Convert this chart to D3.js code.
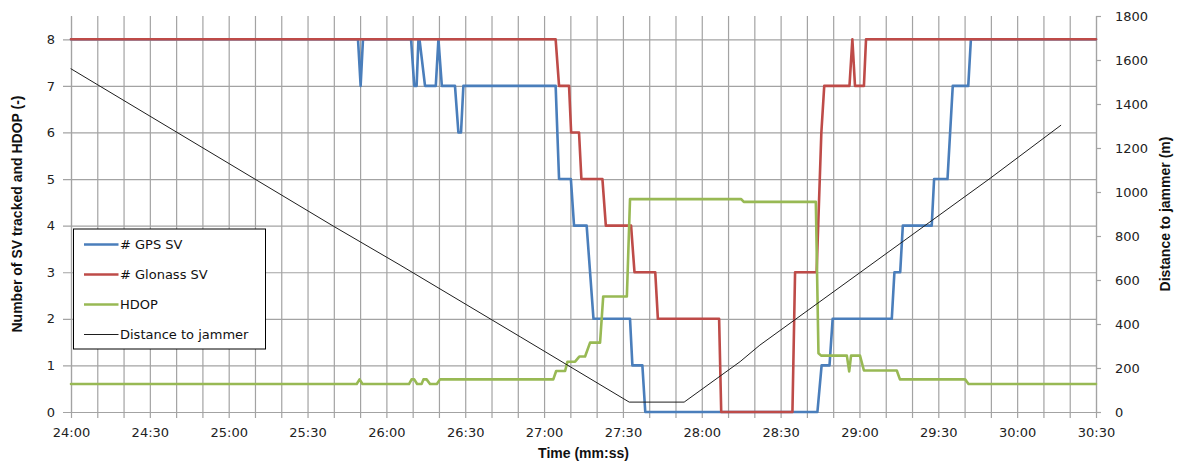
<!DOCTYPE html>
<html>
<head>
<meta charset="utf-8">
<script src="https://cdn.jsdelivr.net/npm/d3@7"></script>
<style>
  body { margin: 0; background: #fff; }
  svg { display: block; }
</style>
</head>
<body>
<svg id="chart" width="1187" height="466"></svg>
<script>
// Times are seconds elapsed after 24:00 (mm:ss); values are step vertices.
const timeTicks = ["24:00", "24:30", "25:00", "25:30", "26:00", "26:30", "27:00",
                   "27:30", "28:00", "28:30", "29:00", "29:30", "30:00", "30:30"];
const svTicks = [0, 1, 2, 3, 4, 5, 6, 7, 8];
const distTicks = [0, 200, 400, 600, 800, 1000, 1200, 1400, 1600, 1800];

// # GPS satellites tracked
const gpsSV = [
  [0, 8], [109.2, 8], [110.2, 7], [111.1, 8], [129.4, 8], [130.6, 7], [131.5, 7],
  [132.2, 8], [132.6, 8], [134.7, 7], [138.8, 7], [139.8, 8], [141.1, 7], [146.1, 7],
  [147.4, 6], [148.4, 6], [149.3, 7], [184.4, 7], [185.7, 5], [190.2, 5], [191.4, 4],
  [196.2, 4], [198.8, 2], [212.7, 2], [213.6, 1], [217.4, 1], [218.5, 0], [284.0, 0],
  [285.6, 1], [288.6, 1], [289.8, 2], [312.3, 2], [313.3, 3], [315.5, 3], [316.5, 4],
  [327.5, 4], [328.4, 5], [333.5, 5], [335.5, 7], [341.4, 7], [342.4, 8], [390, 8]
];

// # Glonass satellites tracked
const glonassSV = [
  [0, 8], [184.4, 8], [185.7, 7], [189.5, 7], [190.3, 6], [193.3, 6], [194.2, 5],
  [202.2, 5], [203.5, 4], [213.1, 4], [214.4, 3], [222.3, 3], [223.3, 2], [246.6, 2],
  [247.4, 0], [274.5, 0], [275.5, 3], [283.7, 3], [285.5, 6], [286.6, 7], [296.2, 7],
  [297.3, 8], [298.3, 7], [301.7, 7], [302.5, 8], [390, 8]
];

// Horizontal dilution of precision
const hdop = [
  [0, 0.6], [108.7, 0.6], [109.8, 0.7], [110.9, 0.6], [128.6, 0.6], [129.6, 0.7],
  [130.6, 0.7], [131.7, 0.6], [133.4, 0.6], [134.1, 0.7], [135.3, 0.7], [136.6, 0.6],
  [139.2, 0.6], [140.4, 0.7], [183.5, 0.7], [184.6, 0.88], [188.0, 0.88], [188.9, 1.08],
  [191.8, 1.08], [193.4, 1.19], [195.6, 1.19], [197.5, 1.49], [201.3, 1.49], [202.5, 2.48],
  [211.5, 2.48], [212.7, 4.57], [255.0, 4.57], [256.0, 4.51], [283.4, 4.51], [284.4, 1.26],
  [285.4, 1.21], [295.2, 1.21], [296.1, 0.87], [296.8, 1.21], [300.2, 1.21], [301.7, 0.89],
  [314.2, 0.89], [315.4, 0.7], [340.2, 0.7], [341.5, 0.6], [390, 0.6]
];

// Distance to jammer (m)
const distance = [
  [0, 1560], [99.8, 845], [125.2, 668], [170.9, 342], [212.4, 45], [233.3, 45],
  [254.6, 229], [262.1, 304], [349.7, 1062], [376.6, 1303]
];

const seriesNames = ["# GPS SV", "# Glonass SV", "HDOP", "Distance to jammer"];
const seriesColors = ["#4a7ebb", "#be4b48", "#98b954", "#1e1e1e"];

const toSeconds = s => { const [m, ss] = s.split(":").map(Number); return m * 60 + ss - 24 * 60; };

const svg = d3.select("#chart");
svg.append("rect").attr("width", 1187).attr("height", 466).attr("fill", "#fff");

const plotLeft = 71, plotRight = 1096, plotTop = 16, plotBottom = 412;
const x = d3.scaleLinear().domain([0, 390]).range([plotLeft, plotRight]);
const yL = d3.scaleLinear().domain([0, 8.5]).range([plotBottom, plotTop]);
const yR = d3.scaleLinear().domain([0, 1800]).range([plotBottom, plotTop]);

const gridColor = "#a3a3a3";
const tickFont = "'DejaVu Sans', Verdana, sans-serif";
const tickSeconds = timeTicks.map(toSeconds);

// Bottom axis with vertical gridlines every 10 s
const gx = svg.append("g").attr("transform", `translate(0,${plotBottom})`)
  .call(d3.axisBottom(x)
    .tickValues(d3.range(0, 391, 10))
    .tickFormat(d => { const k = tickSeconds.indexOf(d); return k >= 0 ? timeTicks[k] : ""; })
    .tickSize(6).tickSizeOuter(0).tickPadding(10));
gx.selectAll(".tick line").attr("y1", yL(8.5) - plotBottom).attr("stroke", gridColor).attr("stroke-width", 1.2);
gx.select(".domain").attr("stroke", gridColor).attr("stroke-width", 1.2);
gx.selectAll("text").attr("font-family", tickFont).attr("font-size", 13).attr("fill", "#222");

// Left axis with horizontal gridlines
const gy = svg.append("g").attr("transform", `translate(${plotLeft},0)`)
  .call(d3.axisLeft(yL).tickValues(svTicks).tickSize(8).tickSizeOuter(0).tickPadding(8));
gy.selectAll(".tick line").attr("x1", plotRight - plotLeft).attr("stroke", gridColor).attr("stroke-width", 1.2);
gy.select(".domain").attr("stroke", gridColor).attr("stroke-width", 1.2);
gy.selectAll("text").attr("font-family", tickFont).attr("font-size", 13).attr("fill", "#222");

// Right axis for distance
const gr = svg.append("g").attr("transform", `translate(${plotRight},0)`)
  .call(d3.axisRight(yR).tickValues(distTicks).tickFormat(d3.format("d"))
    .tickSize(5).tickSizeOuter(0).tickPadding(14));
gr.selectAll(".tick line").attr("stroke", gridColor).attr("stroke-width", 1.2);
gr.select(".domain").attr("stroke", gridColor).attr("stroke-width", 1.2);
gr.selectAll("text").attr("font-family", tickFont).attr("font-size", 13).attr("fill", "#222");

// Axis titles
const titleFont = "'Liberation Sans', Arial, sans-serif";
svg.append("text")
  .attr("transform", `translate(22,${(plotTop + plotBottom) / 2}) rotate(-90)`)
  .attr("text-anchor", "middle").attr("font-family", titleFont)
  .attr("font-weight", "bold").attr("font-size", 14).attr("fill", "#111")
  .text("Number of SV tracked and HDOP (-)");
svg.append("text")
  .attr("transform", `translate(1170,${(plotTop + plotBottom) / 2}) rotate(-90)`)
  .attr("text-anchor", "middle").attr("font-family", titleFont)
  .attr("font-weight", "bold").attr("font-size", 14).attr("fill", "#111")
  .text("Distance to jammer (m)");
svg.append("text")
  .attr("x", (plotLeft + plotRight) / 2).attr("y", 458)
  .attr("text-anchor", "middle").attr("font-family", titleFont)
  .attr("font-weight", "bold").attr("font-size", 14).attr("fill", "#111")
  .text("Time (mm:ss)");

// Series lines
const lineL = d3.line().x(d => x(d[0])).y(d => yL(d[1]));
const lineR = d3.line().x(d => x(d[0])).y(d => yR(d[1]));
const plots = [
  { data: gpsSV, gen: lineL, w: 2.6 },
  { data: glonassSV, gen: lineL, w: 2.6 },
  { data: hdop, gen: lineL, w: 2.6 },
  { data: distance, gen: lineR, w: 1 }
];
plots.forEach((p, i) => {
  svg.append("path").datum(p.data)
    .attr("d", p.gen)
    .attr("fill", "none")
    .attr("stroke", seriesColors[i])
    .attr("stroke-width", p.w)
    .attr("stroke-linejoin", "round")
    .attr("stroke-linecap", "round");
});

// Legend
const lg = svg.append("g").attr("transform", "translate(73.5,229)");
lg.append("rect").attr("width", 192).attr("height", 120)
  .attr("fill", "#fff").attr("stroke", "#000").attr("stroke-width", 1);
seriesNames.forEach((name, i) => {
  const cy = 15.5 + i * 30;
  lg.append("line").attr("x1", 10.5).attr("x2", 45).attr("y1", cy).attr("y2", cy)
    .attr("stroke", seriesColors[i]).attr("stroke-width", plots[i].w);
  lg.append("text").attr("x", 46.5).attr("y", cy).attr("dy", "0.36em")
    .attr("font-family", tickFont).attr("font-size", 13).attr("fill", "#111")
    .text(name);
});
</script>
</body>
</html>
